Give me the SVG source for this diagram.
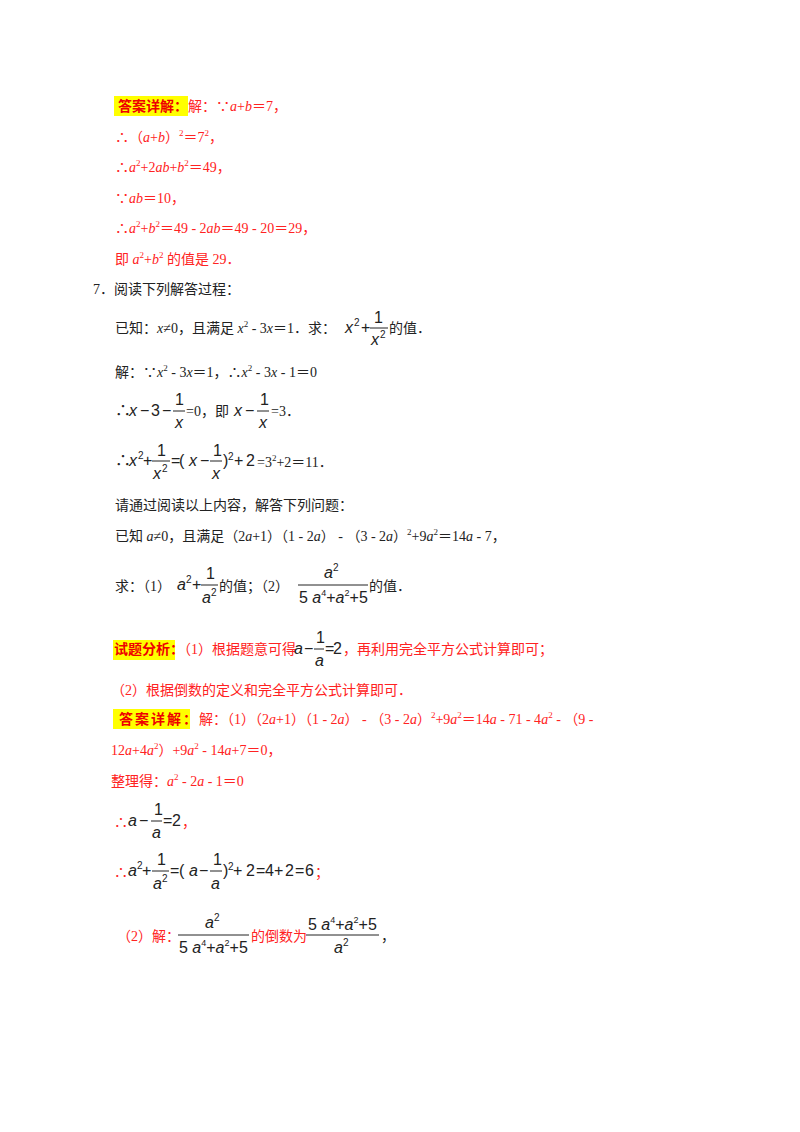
<svg xmlns="http://www.w3.org/2000/svg" width="800" height="1132" viewBox="0 0 800 1132">
<style>
.t{font-family:"Liberation Serif","Noto Sans CJK SC",serif;font-size:14px;fill:#222}
.r{fill:#f22}
.i{font-style:italic}
.m{font-family:"Liberation Sans","Noto Sans CJK SC",sans-serif;font-size:16px;fill:#222}
.s{font-family:"Liberation Sans",sans-serif;font-size:10px;fill:#222}
.hl{fill:#ffff00}
.b{font-weight:bold;fill:#e00}
.fl{stroke:#222;stroke-width:1}
</style>
<rect width="800" height="1132" fill="#fff"/>
<g id="part1">
<rect class="hl" x="114" y="96" width="74" height="20"/>
<text class="t" x="118" y="111"><tspan class="b">答案详解：</tspan><tspan class="r">解：∵<tspan class="i">a</tspan>+<tspan class="i">b</tspan>＝7，</tspan></text>
<text class="t r" x="115" y="142">∴（<tspan class="i">a</tspan>+<tspan class="i">b</tspan>）<tspan dy="-6" font-size="9">2</tspan><tspan dy="6">＝7</tspan><tspan dy="-6" font-size="9">2</tspan><tspan dy="6">，</tspan></text>
<text class="t r" x="115" y="172">∴<tspan class="i">a</tspan><tspan dy="-6" font-size="9">2</tspan><tspan dy="6">+2</tspan><tspan class="i">ab</tspan>+<tspan class="i">b</tspan><tspan dy="-6" font-size="9">2</tspan><tspan dy="6">＝49，</tspan></text>
<text class="t r" x="115" y="203">∵<tspan class="i">ab</tspan>＝10，</text>
<text class="t r" x="115" y="233">∴<tspan class="i">a</tspan><tspan dy="-6" font-size="9">2</tspan><tspan dy="6">+</tspan><tspan class="i">b</tspan><tspan dy="-6" font-size="9">2</tspan><tspan dy="6">＝49 - 2</tspan><tspan class="i">ab</tspan>＝49 - 20＝29，</text>
<text class="t r" x="115" y="264">即 <tspan class="i">a</tspan><tspan dy="-6" font-size="9">2</tspan><tspan dy="6">+</tspan><tspan class="i">b</tspan><tspan dy="-6" font-size="9">2</tspan><tspan dy="6"> 的值是 29．</tspan></text>
</g>
<g id="question">
<text class="t" x="93" y="294">7．阅读下列解答过程：</text>
<text class="t" x="115" y="333">已知：<tspan class="i">x</tspan>≠0，且满足 <tspan class="i">x</tspan><tspan dy="-6" font-size="9">2</tspan><tspan dy="6"> - 3</tspan><tspan class="i">x</tspan>＝1．求：</text>
<text class="m i" x="345" y="333">x</text><text class="s" x="354" y="326">2</text><text class="m" x="361" y="333" font-size="13">+</text>
<text class="m" x="374" y="323">1</text>
<line class="fl" x1="370" y1="328" x2="388" y2="328"/>
<text class="m i" x="371" y="345">x</text><text class="s" x="380" y="338">2</text>
<text class="t" x="389" y="333">的值．</text>
<text class="t" x="115" y="377">解：∵<tspan class="i">x</tspan><tspan dy="-6" font-size="9">2</tspan><tspan dy="6"> - 3</tspan><tspan class="i">x</tspan>＝1，∴<tspan class="i">x</tspan><tspan dy="-6" font-size="9">2</tspan><tspan dy="6"> - 3</tspan><tspan class="i">x</tspan> - 1＝0</text>
<text class="m" x="115" y="416">∴</text>
<text class="m i" x="129" y="416">x</text>
<text class="m" x="140" y="416">−</text>
<text class="m" x="151" y="416">3</text>
<text class="m" x="162" y="416">−</text>
<text class="m" x="175" y="405">1</text>
<line class="fl" x1="173" y1="411" x2="185" y2="411"/>
<text class="m i" x="175" y="428">x</text>
<text class="t" x="186" y="416">=0，即</text>
<text class="m i" x="234" y="416">x</text>
<text class="m" x="245" y="416">−</text>
<text class="m" x="260" y="405">1</text>
<line class="fl" x1="257" y1="411" x2="269" y2="411"/>
<text class="m i" x="259" y="428">x</text>
<text class="t" x="271" y="416">=3．</text>
<text class="m" x="115" y="466">∴</text>
<text class="m i" x="129" y="466">x</text><text class="s" x="138" y="459">2</text>
<text class="m" x="143" y="466" font-size="13">+</text>
<text class="m" x="157" y="456">1</text>
<line class="fl" x1="152" y1="461" x2="170" y2="461"/>
<text class="m i" x="153" y="479">x</text><text class="s" x="162" y="472">2</text>
<text class="m" x="171" y="466" font-size="13">=</text>
<text class="m" x="179" y="466">(</text>
<text class="m i" x="189" y="466">x</text>
<text class="m" x="200" y="466">−</text>
<text class="m" x="213" y="456">1</text>
<line class="fl" x1="210" y1="461" x2="222" y2="461"/>
<text class="m i" x="212" y="479">x</text>
<text class="m" x="223" y="466">)</text><text class="s" x="228" y="460">2</text>
<text class="m" x="234" y="466">+</text>
<text class="m" x="246" y="466">2</text>
<text class="t" x="257" y="467">=3<tspan dy="-6" font-size="9">2</tspan><tspan dy="6">+2＝11．</tspan></text>
<text class="t" x="115" y="510">请通过阅读以上内容，解答下列问题：</text>
<text class="t" x="115" y="541">已知 <tspan class="i">a</tspan>≠0，且满足（2<tspan class="i">a</tspan>+1）（1 - 2<tspan class="i">a</tspan>） - （3 - 2<tspan class="i">a</tspan>）<tspan dy="-6" font-size="9">2</tspan><tspan dy="6">+9</tspan><tspan class="i">a</tspan><tspan dy="-6" font-size="9">2</tspan><tspan dy="6">＝14</tspan><tspan class="i">a</tspan> - 7，</text>
<text class="t" x="115" y="591">求：（1）</text>
<text class="m i" x="177" y="590">a</text><text class="s" x="186" y="583">2</text>
<text class="m" x="192" y="590" font-size="13">+</text>
<text class="m" x="206" y="579">1</text>
<line class="fl" x1="201" y1="585" x2="218" y2="585"/>
<text class="m i" x="202" y="603">a</text><text class="s" x="211" y="596">2</text>
<text class="t" x="219" y="591">的值；（2）</text>
<text class="m i" x="324" y="578">a</text><text class="s" x="333" y="571">2</text>
<line class="fl" x1="298" y1="585" x2="368" y2="585"/>
<text class="m" x="299" y="603" font-size="15">5 <tspan class="i">a</tspan><tspan dy="-7" font-size="9">4</tspan><tspan dy="7">+</tspan><tspan class="i">a</tspan><tspan dy="-7" font-size="9">2</tspan><tspan dy="7">+5</tspan></text>
<text class="t" x="369" y="591">的值．</text>
</g>
<g id="analysis">
<rect class="hl" x="113" y="640" width="62" height="20"/>
<text class="t b" x="114" y="654" font-size="12">试题分析：</text>
<text class="t r" x="177" y="654" font-size="13">（1）根据题意可得</text>
<text class="m i" x="294" y="654">a</text>
<text class="m" x="304" y="654">−</text>
<text class="m" x="316" y="643">1</text>
<line class="fl" x1="314" y1="649" x2="324" y2="649"/>
<text class="m i" x="315" y="666">a</text>
<text class="m" x="325" y="654" font-size="13">=</text>
<text class="m" x="333" y="654">2</text>
<text class="t r" x="343" y="654">，再利用完全平方公式计算即可；</text>
<text class="t r" x="111" y="695">（2）根据倒数的定义和完全平方公式计算即可．</text>
<rect class="hl" x="113" y="709" width="77" height="20"/>
<text class="t" x="119" y="724"><tspan class="b" letter-spacing="2">答案详解：</tspan><tspan class="r">解：（1）（2<tspan class="i">a</tspan>+1）（1 - 2<tspan class="i">a</tspan>） - （3 - 2<tspan class="i">a</tspan>）<tspan dy="-6" font-size="9">2</tspan><tspan dy="6">+9</tspan><tspan class="i">a</tspan><tspan dy="-6" font-size="9">2</tspan><tspan dy="6">＝14</tspan><tspan class="i">a</tspan> - 71 - 4<tspan class="i">a</tspan><tspan dy="-6" font-size="9">2</tspan><tspan dy="6"> - （9 -</tspan></tspan></text>
<text class="t r" x="111" y="755">12<tspan class="i">a</tspan>+4<tspan class="i">a</tspan><tspan dy="-6" font-size="9">2</tspan><tspan dy="6">）+9</tspan><tspan class="i">a</tspan><tspan dy="-6" font-size="9">2</tspan><tspan dy="6"> - 14</tspan><tspan class="i">a</tspan>+7＝0，</text>
<text class="t r" x="111" y="786">整理得：<tspan class="i">a</tspan><tspan dy="-6" font-size="9">2</tspan><tspan dy="6"> - 2</tspan><tspan class="i">a</tspan> - 1＝0</text>
<text class="t r" x="114" y="827">∴</text>
<text class="m i" x="128" y="826">a</text>
<text class="m" x="139" y="826">−</text>
<text class="m" x="154" y="815">1</text>
<line class="fl" x1="151" y1="821" x2="162" y2="821"/>
<text class="m i" x="152" y="838">a</text>
<text class="m" x="163" y="826" font-size="13">=</text>
<text class="m" x="172" y="826">2</text>
<text class="t r" x="182" y="827">，</text>
<text class="t r" x="114" y="877">∴</text>
<text class="m i" x="128" y="876">a</text><text class="s" x="137" y="869">2</text>
<text class="m" x="142" y="876" font-size="13">+</text>
<text class="m" x="157" y="865">1</text>
<line class="fl" x1="152" y1="871" x2="169" y2="871"/>
<text class="m i" x="153" y="889">a</text><text class="s" x="162" y="882">2</text>
<text class="m" x="170" y="876" font-size="13">=</text>
<text class="m" x="179" y="876">(</text>
<text class="m i" x="189" y="876">a</text>
<text class="m" x="199" y="876">−</text>
<text class="m" x="213" y="865">1</text>
<line class="fl" x1="210" y1="871" x2="222" y2="871"/>
<text class="m i" x="211" y="889">a</text>
<text class="m" x="223" y="876">)</text><text class="s" x="228" y="870">2</text>
<text class="m" x="233" y="876">+</text>
<text class="m" x="246" y="876">2</text>
<text class="m" x="256" y="876" font-size="13">=</text>
<text class="m" x="265" y="876">4</text>
<text class="m" x="274" y="876">+</text>
<text class="m" x="285" y="876">2</text>
<text class="m" x="295" y="876" font-size="13">=</text>
<text class="m" x="305" y="876">6</text>
<text class="t r" x="315" y="877">；</text>
<text class="t r" x="117" y="941">（2）解：</text>
<text class="m i" x="205" y="928">a</text><text class="s" x="214" y="921">2</text>
<line class="fl" x1="178" y1="935" x2="249" y2="935"/>
<text class="m" x="179" y="953" font-size="15">5 <tspan class="i">a</tspan><tspan dy="-7" font-size="9">4</tspan><tspan dy="7">+</tspan><tspan class="i">a</tspan><tspan dy="-7" font-size="9">2</tspan><tspan dy="7">+5</tspan></text>
<text class="t r" x="251" y="941">的倒数为</text>
<text class="m" x="308" y="930" font-size="15">5 <tspan class="i">a</tspan><tspan dy="-7" font-size="9">4</tspan><tspan dy="7">+</tspan><tspan class="i">a</tspan><tspan dy="-7" font-size="9">2</tspan><tspan dy="7">+5</tspan></text>
<line class="fl" x1="306" y1="935" x2="379" y2="935"/>
<text class="m i" x="334" y="953">a</text><text class="s" x="343" y="946">2</text>
<text class="t" x="381" y="941">，</text>
</g>
</svg>
